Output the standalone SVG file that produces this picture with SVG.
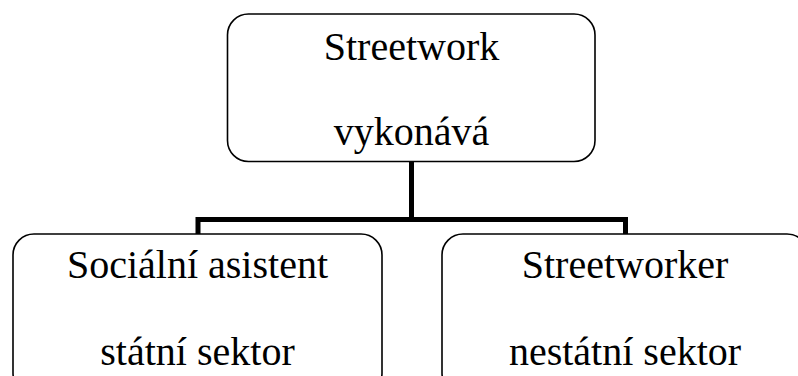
<svg xmlns="http://www.w3.org/2000/svg" width="798" height="376" viewBox="0 0 798 376">
<style>
.box{fill:#fff;stroke:#000;stroke-width:1.6}
.t{font-family:"Liberation Serif","Times New Roman",serif;font-size:40px;fill:#000;text-anchor:middle}
.c{fill:none;stroke:#000;stroke-width:5;stroke-linejoin:miter}
</style>
<rect width="798" height="376" fill="#fff"/>
<g id="connectors">
<path class="c" d="M411.5,161.5 V219.5"/>
<path class="c" d="M198,234 V219.5 H625.5 V234"/>
</g>
<g id="top">
<rect class="box" x="227.5" y="14" width="367.5" height="147.5" rx="21" ry="21"/>
<text class="t" x="411.5" y="60">Streetwork</text>
<text class="t" x="411.5" y="145">vykonává</text>
</g>
<g id="left">
<rect class="box" x="13" y="234" width="369" height="160" rx="21" ry="21"/>
<text class="t" x="197.5" y="278">Sociální asistent</text>
<text class="t" x="197.5" y="365">státní sektor</text>
</g>
<g id="right">
<rect class="box" x="442" y="234" width="366" height="160" rx="21" ry="21"/>
<text class="t" x="625" y="278">Streetworker</text>
<text class="t" x="625" y="365">nestátní sektor</text>
</g>
</svg>
